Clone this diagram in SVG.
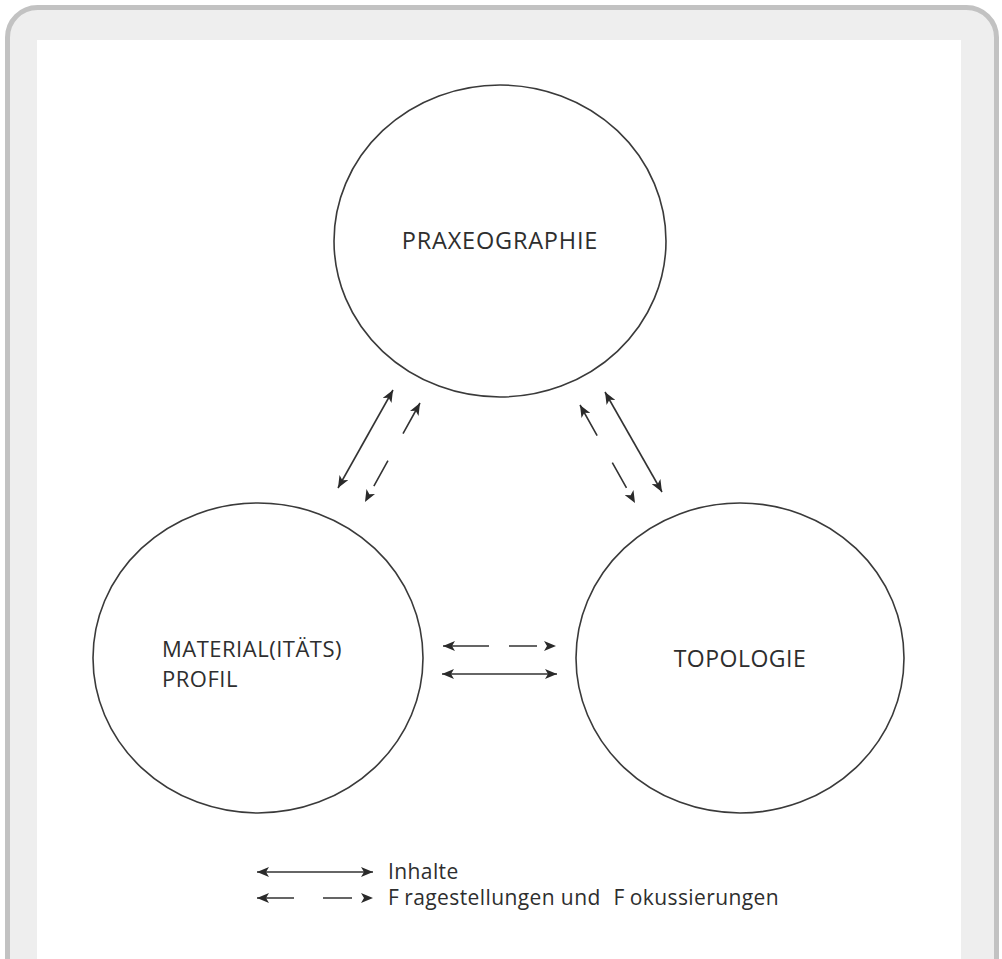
<svg xmlns="http://www.w3.org/2000/svg" width="1002" height="959" viewBox="0 0 1002 959">
  <style>
    .node { fill: none; stroke: #3a3a3a; stroke-width: 1.6; }
    .lbl { font-family: "Open Sans", "Liberation Sans", sans-serif; fill: #2e2e2e; }
    .conn { stroke: #333; stroke-width: 1.6; fill: none; }
  </style>
  <defs>
    <marker id="ah" viewBox="0 0 12 10" refX="12" refY="5" markerWidth="12" markerHeight="10" markerUnits="userSpaceOnUse" orient="auto-start-reverse">
      <path d="M0,0 L12,5 L0,10 L3,5 z" fill="#2a2a2a"/>
    </marker>
  </defs>
  <rect x="7.5" y="7.5" width="989" height="1010" rx="30" ry="30" fill="#eeeeee" stroke="#c2c2c2" stroke-width="5"/>
  <rect x="37" y="40" width="924" height="930" fill="#ffffff"/>

  <g id="praxeographie">
    <ellipse class="node" cx="500" cy="241" rx="166" ry="156"/>
    <text class="lbl" x="500" y="249" font-size="23.5" letter-spacing="0.8" text-anchor="middle">PRAXEOGRAPHIE</text>
  </g>
  <g id="materialprofil">
    <ellipse class="node" cx="258" cy="658" rx="165" ry="155"/>
    <text class="lbl" x="162" y="657" font-size="22" letter-spacing="0.5">MATERIAL(ITÄTS)</text>
    <text class="lbl" x="162" y="687" font-size="22" letter-spacing="0.5">PROFIL</text>
  </g>
  <g id="topologie">
    <ellipse class="node" cx="740" cy="658" rx="164" ry="155"/>
    <text class="lbl" x="740" y="667" font-size="23" letter-spacing="0.5" text-anchor="middle">TOPOLOGIE</text>
  </g>

  <g id="connectors">
    <line class="conn" x1="393" y1="390" x2="338" y2="488" marker-start="url(#ah)" marker-end="url(#ah)"/>
    <line class="conn" x1="420" y1="403" x2="365" y2="502" stroke-dasharray="35 31 29 40" marker-start="url(#ah)" marker-end="url(#ah)"/>
    <line class="conn" x1="605" y1="392" x2="662" y2="492" marker-start="url(#ah)" marker-end="url(#ah)"/>
    <line class="conn" x1="580" y1="405" x2="635" y2="503" stroke-dasharray="35 31 29 40" marker-start="url(#ah)" marker-end="url(#ah)"/>
    <line class="conn" x1="443" y1="646" x2="556" y2="646" stroke-dasharray="46 20 28 40" marker-start="url(#ah)" marker-end="url(#ah)"/>
    <line class="conn" x1="442" y1="674" x2="557" y2="674" marker-start="url(#ah)" marker-end="url(#ah)"/>
  </g>

  <g id="legend">
    <line class="conn" x1="257" y1="872" x2="373" y2="872" marker-start="url(#ah)" marker-end="url(#ah)"/>
    <line class="conn" x1="257" y1="898" x2="373" y2="898" stroke-dasharray="37 29 29 40" marker-start="url(#ah)" marker-end="url(#ah)"/>
    <text class="lbl" x="388" y="879" font-size="21" letter-spacing="0.4">Inhalte</text>
    <text class="lbl" x="388" y="905" font-size="21" letter-spacing="0.4">F<tspan dx="5">ragestellungen und </tspan><tspan dx="7">F</tspan><tspan dx="5">okussierungen</tspan></text>
  </g>
</svg>
